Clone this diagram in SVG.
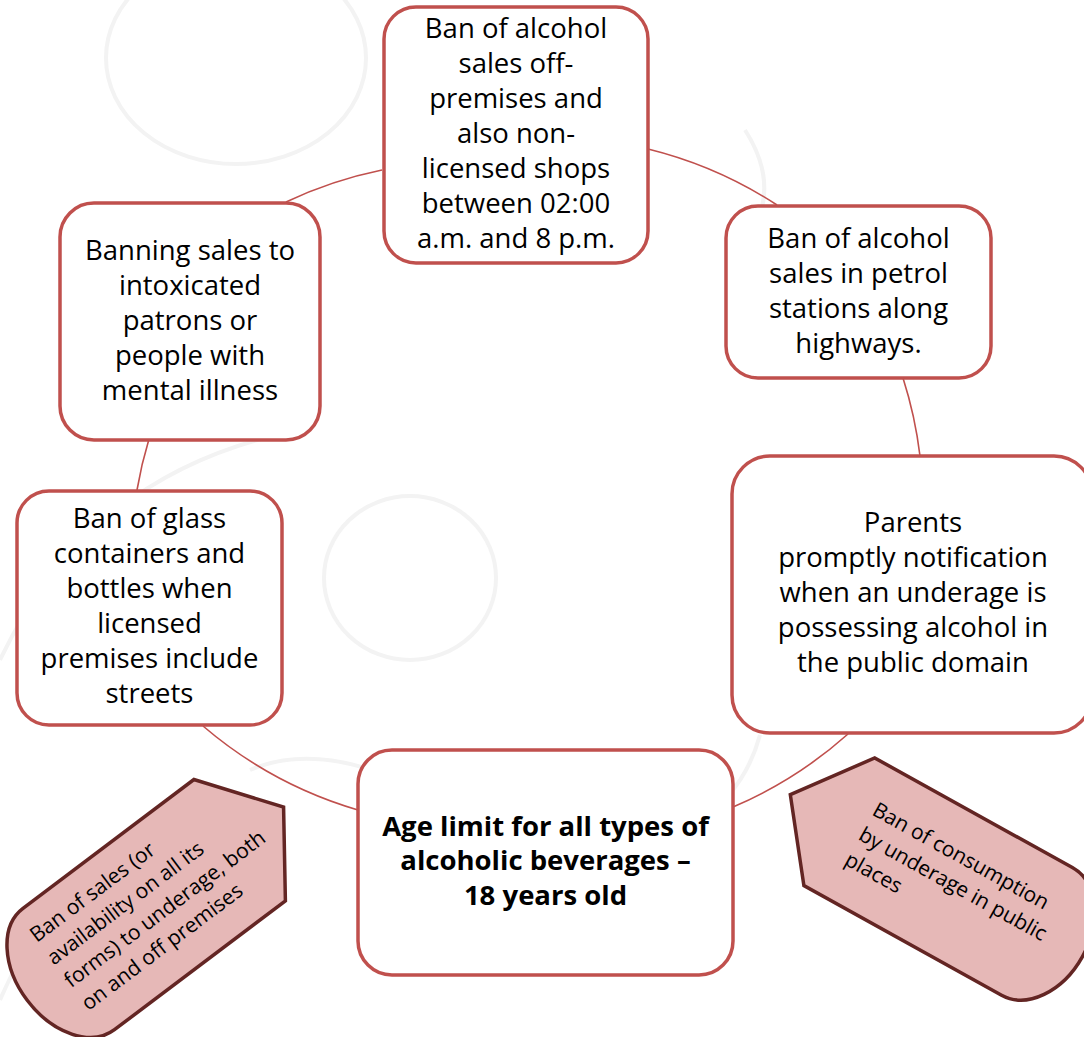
<svg xmlns="http://www.w3.org/2000/svg" width="1084" height="1037" viewBox="0 0 1084 1037">
  <defs>
    <style>
      .bg { fill: none; stroke: #f3f3f3; stroke-width: 4; }
      .node rect { fill: #ffffff; stroke: #c0504d; stroke-width: 3.5; }
      .node text { font-family: "Open Sans", "Liberation Sans", sans-serif; font-size: 27.5px; fill: #000000; text-anchor: middle; }
      .node text.bold { font-weight: bold; font-size: 27.5px; }
      .conn path { fill: none; stroke: #c0504d; stroke-width: 1.6; }
      .tag path { fill: #e6b8b7; stroke: #632523; stroke-width: 3.5; stroke-linejoin: miter; }
      .tag text { font-family: "Open Sans", "Liberation Sans", sans-serif; font-size: 21px; fill: #000000; }
    </style>
  </defs>
  <rect x="0" y="0" width="1084" height="1037" fill="#ffffff"/>
  <g id="background">
    <ellipse class="bg" cx="236" cy="58" rx="130" ry="106"/>
    <ellipse class="bg" cx="410" cy="578" rx="86" ry="82"/>
    <path class="bg" d="M0,660 Q90,470 300,430"/>
    <path class="bg" d="M0,1000 Q60,860 200,800"/>
    <path class="bg" d="M250,770 Q320,740 420,790"/>
    <path class="bg" d="M745,130 Q790,200 730,260"/>
    <path class="bg" d="M760,735 Q745,790 700,820"/>
  </g>
  <g id="connectors" class="conn">
    <path d="M286,202 A420,420 0 0 1 382,170"/>
    <path d="M648,149 A420,420 0 0 1 777,205"/>
    <path d="M903,378 A420,420 0 0 1 920,456"/>
    <path d="M848,734 A420,420 0 0 1 733,807"/>
    <path d="M358,810 A420,420 0 0 1 203,726"/>
    <path d="M137,490 A420,420 0 0 1 149,439"/>
  </g>
  <g id="node-top" class="node">
    <rect x="384" y="7" width="264" height="256" rx="32"/>
    <text x="516" y="38">Ban of alcohol</text>
    <text x="516" y="73">sales off-</text>
    <text x="516" y="108">premises and</text>
    <text x="516" y="143">also non-</text>
    <text x="516" y="178">licensed shops</text>
    <text x="516" y="213">between 02:00</text>
    <text x="516" y="248">a.m. and 8 p.m.</text>
  </g>
  <g id="node-petrol" class="node">
    <rect x="726" y="206" width="265" height="172" rx="32"/>
    <text x="858.5" y="248">Ban of alcohol</text>
    <text x="858.5" y="283">sales in petrol</text>
    <text x="858.5" y="318">stations along</text>
    <text x="858.5" y="353">highways.</text>
  </g>
  <g id="node-parents" class="node">
    <rect x="732" y="456" width="360" height="277" rx="38"/>
    <text x="913" y="532">Parents</text>
    <text x="913" y="567">promptly notification</text>
    <text x="913" y="602">when an underage is</text>
    <text x="913" y="637">possessing alcohol in</text>
    <text x="913" y="672">the public domain</text>
  </g>
  <g id="node-age" class="node">
    <rect x="358" y="750" width="375" height="225" rx="34"/>
    <text class="bold" x="545.5" y="836">Age limit for all types of</text>
    <text class="bold" x="545.5" y="870">alcoholic beverages –</text>
    <text class="bold" x="545.5" y="905">18 years old</text>
  </g>
  <g id="node-glass" class="node">
    <rect x="17" y="491" width="265" height="234" rx="32"/>
    <text x="149.5" y="528">Ban of glass</text>
    <text x="149.5" y="563">containers and</text>
    <text x="149.5" y="598">bottles when</text>
    <text x="149.5" y="633">licensed</text>
    <text x="149.5" y="668">premises include</text>
    <text x="149.5" y="703">streets</text>
  </g>
  <g id="node-banning" class="node">
    <rect x="60" y="203" width="260" height="237" rx="34"/>
    <text x="190" y="260">Banning sales to</text>
    <text x="190" y="295">intoxicated</text>
    <text x="190" y="330">patrons or</text>
    <text x="190" y="365">people with</text>
    <text x="190" y="400">mental illness</text>
  </g>
  <g id="tag-sales" class="tag" transform="translate(155,904) rotate(-37)">
    <path d="M161,0 L106,76 L-108,76 A52,76 0 0 1 -108,-76 L106,-76 Z"/>
    <text x="-118" y="-40">Ban of sales (or</text>
    <text x="-118" y="-11.5">availability on all its</text>
    <text x="-118" y="17">forms) to underage, both</text>
    <text x="-118" y="45.5">on and off premises</text>
  </g>
  <g id="tag-consumption" class="tag" transform="translate(942.5,879) rotate(29)">
    <path d="M-174,0 L-118,-73 L108,-73 A52,73 0 0 1 108,73 L-118,73 Z"/>
    <text x="-94" y="-22">Ban of consumption</text>
    <text x="-94" y="6.5">by underage in public</text>
    <text x="-94" y="35">places</text>
  </g>
</svg>
